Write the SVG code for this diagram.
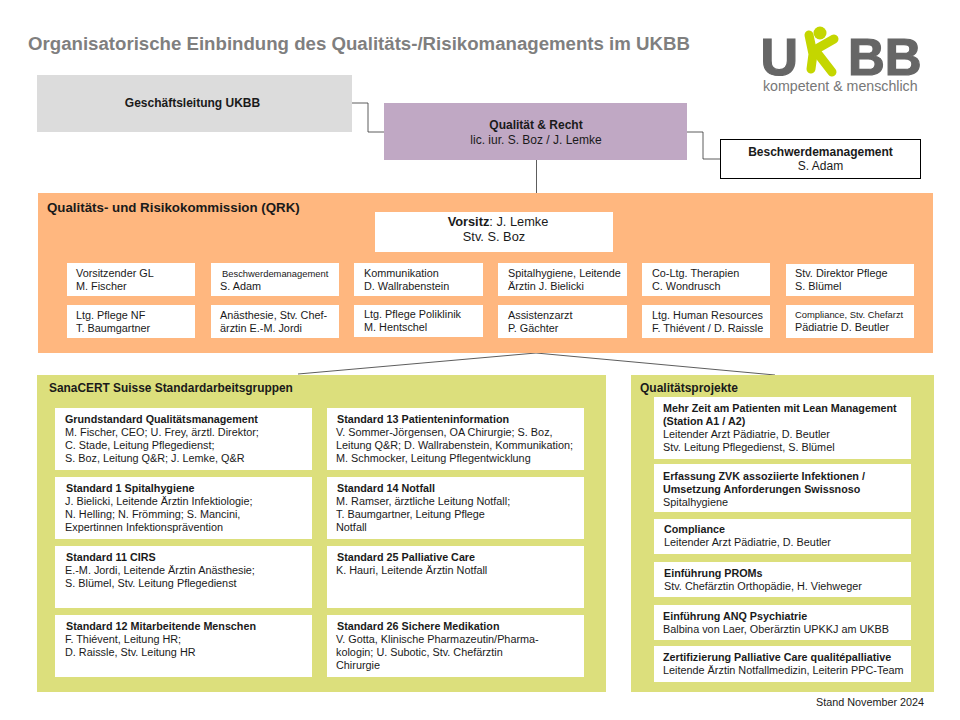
<svg xmlns="http://www.w3.org/2000/svg" width="960" height="720" viewBox="0 0 960 720">
<style>
text{font-family:"Liberation Sans",Arial,sans-serif;font-size:10.85px;fill:#1a1a1a}
.b{font-weight:bold;font-size:10.75px}
.w{fill:#fff}
.g{fill:#dcdf7c}
.c{text-anchor:middle}
.s{font-size:9.400px}
.h{font-size:12px}
.conn{fill:none;stroke:#333;stroke-width:.8}
.lg{font-weight:bold;fill:#666;stroke:#666;stroke-width:1.2}
</style>
<rect width="960" height="720" fill="#fff"/>
<text x="28" y="49.500" class="b" style="font-size:18.650px;fill:#7f7f7f">Organisatorische Einbindung des Qualitäts-/Risikomanagements im UKBB</text>
<g id="logo">
<text x="760.500" y="75" class="lg" style="font-size:52px">U</text>
<text x="848" y="75" class="lg" style="font-size:51px">BB</text>
<g fill="none" stroke="#c4d600" stroke-width="9" stroke-linecap="round"><path d="M809 35 L813 54 L811 69"/><path d="M813 51 L834 39"/><path d="M815 50 L832 72"/></g>
<circle cx="820" cy="33" r="6.500" fill="#c4d600"/>
<text x="763" y="91" style="font-size:14.200px;fill:#777">kompetent &amp; menschlich</text>
</g>
<g id="connectors">
<path class="conn" d="M352 103H368V132H384"/>
<path class="conn" d="M687 132H703V159H720"/>
<path class="conn" d="M536.500 160V193"/>
<path class="conn" d="M298 374L536 353L775 375"/>
</g>
<g id="geschaeftsleitung"><rect x="37" y="75" width="315" height="57" fill="#dcdcdc"/><text x="192.500" y="107" class="b c h" style="font-size:12px">Geschäftsleitung UKBB</text></g>
<g id="qualitaet-recht"><rect x="384" y="103" width="303" height="57" fill="#c0a8c4"/><text x="536" y="129" class="b c" style="font-size:12px">Qualität &amp; Recht</text><text x="536" y="144" class="c h">lic. iur. S. Boz / J. Lemke</text></g>
<g id="beschwerde"><rect x="720.500" y="139.500" width="200" height="39" fill="#fff" stroke="#000"/><text x="820.500" y="155.500" class="b c" style="font-size:12px">Beschwerdemanagement</text><text x="820.500" y="170" class="c h">S. Adam</text></g>
<g id="qrk"><rect x="38" y="193" width="895" height="160" fill="#ffb77f"/><text x="47" y="212" class="b" style="font-size:13.300px">Qualitäts- und Risikokommission (QRK)</text></g>
<g id="vorsitz"><rect class="w" x="375" y="212" width="238" height="40"/><text x="498" y="226" class="c" style="font-size:12.800px"><tspan class="b" style="font-size:12.800px">Vorsitz</tspan>:  J. Lemke</text><text x="494" y="241" class="c" style="font-size:12.800px">Stv. S. Boz</text></g>
<g id="q1"><rect class="w" x="67" y="263" width="128" height="33"/><text x="76" y="276.500">Vorsitzender GL</text><text x="76" y="289.500">M. Fischer</text></g>
<g id="q2"><rect class="w" x="211" y="263" width="128" height="33"/><text x="222" y="276.500" class="s">Beschwerdemanagement</text><text x="220" y="289.500">S. Adam</text></g>
<g id="q3"><rect class="w" x="354" y="263" width="129" height="33"/><text x="364" y="276.500">Kommunikation</text><text x="364" y="289.500">D. Wallrabenstein</text></g>
<g id="q4"><rect class="w" x="498" y="263" width="129" height="33"/><text x="508" y="276.500">Spitalhygiene, Leitende</text><text x="508" y="289.500">Ärztin J. Bielicki</text></g>
<g id="q5"><rect class="w" x="642" y="263" width="128" height="33"/><text x="652" y="276.500">Co-Ltg. Therapien</text><text x="652" y="289.500">C. Wondrusch</text></g>
<g id="q6"><rect class="w" x="786" y="264" width="128" height="32"/><text x="795" y="276.500">Stv. Direktor Pflege</text><text x="795" y="289.500">S. Blümel</text></g>
<g id="q7"><rect class="w" x="67" y="305" width="128" height="33"/><text x="76" y="318.500">Ltg. Pflege NF</text><text x="76" y="331.500">T. Baumgartner</text></g>
<g id="q8"><rect class="w" x="211" y="305" width="128" height="33"/><text x="220" y="318.500">Anästhesie, Stv. Chef-</text><text x="220" y="331.500">ärztin E.-M. Jordi</text></g>
<g id="q9"><rect class="w" x="354" y="305" width="129" height="32"/><text x="364" y="317.500">Ltg. Pflege Poliklinik</text><text x="364" y="330.500">M. Hentschel</text></g>
<g id="q10"><rect class="w" x="498" y="305" width="129" height="33"/><text x="508" y="318.500">Assistenzarzt</text><text x="508" y="331.500">P. Gächter</text></g>
<g id="q11"><rect class="w" x="642" y="305" width="128" height="33"/><text x="652" y="318.500">Ltg. Human Resources</text><text x="652" y="331.500">F. Thiévent / D. Raissle</text></g>
<g id="q12"><rect class="w" x="786" y="305" width="128" height="33"/><text x="795" y="318" class="s">Compliance, Stv. Chefarzt</text><text x="795" y="331">Pädiatrie D. Beutler</text></g>
<g id="sanacert"><rect class="g" x="37" y="375" width="569" height="317"/><text x="49" y="392" class="b" style="font-size:11.900px">SanaCERT Suisse Standardarbeitsgruppen</text></g>
<g id="projekte"><rect class="g" x="631" y="375" width="303" height="317"/><text x="640" y="392" class="b" style="font-size:12px">Qualitätsprojekte</text></g>
<g id="s-grund"><rect class="w" x="55" y="408" width="257" height="62"/><text x="65" y="423" class="b">Grundstandard Qualitätsmanagement</text><text x="65" y="436">M. Fischer, CEO; U. Frey, ärztl. Direktor;</text><text x="65" y="449">C. Stade, Leitung Pflegedienst;</text><text x="65" y="462">S. Boz, Leitung Q&amp;R; J. Lemke, Q&amp;R</text></g>
<g id="s1"><rect class="w" x="55" y="477" width="257" height="62"/><text x="66" y="492" class="b">Standard 1 Spitalhygiene</text><text x="65" y="505">J. Bielicki, Leitende Ärztin Infektiologie;</text><text x="65" y="518">N. Helling; N. Frömming; S. Mancini,</text><text x="65" y="531">Expertinnen Infektionsprävention</text></g>
<g id="s11"><rect class="w" x="55" y="546" width="257" height="62"/><text x="66" y="561" class="b">Standard 11 CIRS</text><text x="65" y="574">E.-M. Jordi, Leitende Ärztin Anästhesie;</text><text x="65" y="587">S. Blümel, Stv. Leitung Pflegedienst</text></g>
<g id="s12"><rect class="w" x="55" y="615" width="257" height="62"/><text x="66" y="630" class="b">Standard 12 Mitarbeitende Menschen</text><text x="65" y="643">F. Thiévent, Leitung HR;</text><text x="65" y="656">D. Raissle, Stv. Leitung HR</text></g>
<g id="s13"><rect class="w" x="327" y="408" width="257" height="62"/><text x="337" y="423" class="b">Standard 13 Patienteninformation</text><text x="336" y="436">V. Sommer-Jörgensen, OA Chirurgie; S. Boz,</text><text x="336" y="449">Leitung Q&amp;R; D. Wallrabenstein, Kommunikation;</text><text x="336" y="462">M. Schmocker, Leitung Pflegentwicklung</text></g>
<g id="s14"><rect class="w" x="327" y="477" width="257" height="62"/><text x="337" y="492" class="b">Standard 14 Notfall</text><text x="336" y="505">M. Ramser, ärztliche Leitung Notfall;</text><text x="336" y="518">T. Baumgartner, Leitung Pflege</text><text x="336" y="531">Notfall</text></g>
<g id="s25"><rect class="w" x="327" y="546" width="257" height="62"/><text x="337" y="561" class="b">Standard 25 Palliative Care</text><text x="336" y="574">K. Hauri, Leitende Ärztin Notfall</text></g>
<g id="s26"><rect class="w" x="327" y="615" width="257" height="62"/><text x="337" y="630" class="b">Standard 26 Sichere Medikation</text><text x="336" y="643">V. Gotta, Klinische Pharmazeutin/Pharma-</text><text x="336" y="656">kologin; U. Subotic, Stv. Chefärztin</text><text x="336" y="669">Chirurgie</text></g>
<g id="p1"><rect class="w" x="654" y="397" width="257" height="62"/><text x="663" y="412" class="b">Mehr Zeit am Patienten mit Lean Management</text><text x="663" y="425" class="b">(Station A1 / A2)</text><text x="663" y="438">Leitender Arzt Pädiatrie, D. Beutler</text><text x="663" y="451">Stv. Leitung Pflegedienst, S. Blümel</text></g>
<g id="p2"><rect class="w" x="654" y="464" width="257" height="48"/><text x="663" y="479.500" class="b">Erfassung ZVK assoziierte Infektionen /</text><text x="663" y="492.500" class="b">Umsetzung Anforderungen Swissnoso</text><text x="663" y="505.500">Spitalhygiene</text></g>
<g id="p3"><rect class="w" x="654" y="519" width="257" height="35"/><text x="664" y="533" class="b">Compliance</text><text x="664" y="546">Leitender Arzt Pädiatrie, D. Beutler</text></g>
<g id="p4"><rect class="w" x="654" y="562" width="257" height="35"/><text x="664" y="577" class="b">Einführung PROMs</text><text x="664" y="590">Stv. Chefärztin Orthopädie, H. Viehweger</text></g>
<g id="p5"><rect class="w" x="654" y="605" width="257" height="35"/><text x="663" y="619.500" class="b">Einführung ANQ Psychiatrie</text><text x="663" y="632.500">Balbina von Laer, Oberärztin UPKKJ am UKBB</text></g>
<g id="p6"><rect class="w" x="654" y="646" width="257" height="36"/><text x="663" y="661" class="b">Zertifizierung Palliative Care qualitépalliative</text><text x="663" y="674">Leitende Ärztin Notfallmedizin, Leiterin PPC-Team</text></g>
<text x="816" y="706" style="font-size:10.800px">Stand November 2024</text>
</svg>
